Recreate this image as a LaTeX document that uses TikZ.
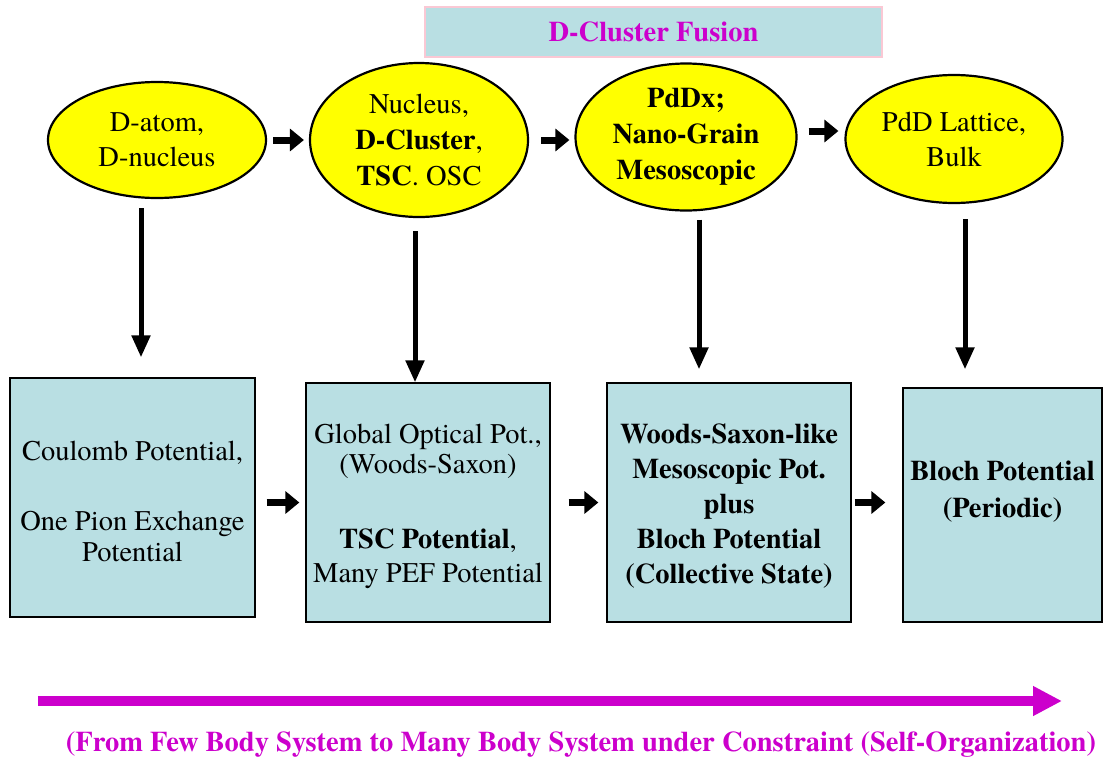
\documentclass[tikz,border=0pt]{standalone}
\usepackage{fontspec}
% Times-like face; Liberation Serif has the same widths
\IfFontExistsTF{TeX Gyre Termes}
  {\newfontfamily\diagfont{TeX Gyre Termes}}
  {\newfontfamily\diagfont{Liberation Serif}}
\usetikzlibrary{shapes.geometric,arrows.meta}
\definecolor{cellblue}{RGB}{185,223,227}
\definecolor{stageyellow}{RGB}{255,255,0}
\definecolor{flowmag}{RGB}{204,0,204}
\definecolor{edgepink}{RGB}{250,200,212}
% one size for every text; only the line spacing changes
\newcommand{\diagsize}[1]{\diagfont\fontsize{28.5}{#1}\selectfont}

\begin{document}
\begin{tikzpicture}[x=1pt,y=-1pt,
  stage/.style={ellipse,draw=black,line width=2.2pt,fill=stageyellow,inner sep=0pt,
    align=center,font={\diagsize{35}}},
  potbox/.style={rectangle,draw=black,line width=1.3pt,fill=cellblue,inner sep=0pt},
  pottext/.style={align=center,inner sep=0pt,font={\diagsize{32}}},
  harrow/.style={line width=7pt,-{Triangle[length=14pt,width=22pt]}},
  varrow/.style={line width=5pt,-{Triangle[length=22pt,width=18pt]}},
  flowarrow/.style={draw=flowmag,line width=10pt,-{Triangle[length=29pt,width=28pt]}},
]
\useasboundingbox (0,0) rectangle (1107,761);

% heading
\node[rectangle,draw=edgepink,line width=1.2pt,fill=cellblue,minimum width=457pt,
  minimum height=50pt,inner sep=0pt,text=flowmag,font={\diagsize{32}\bfseries}]
  (title) at (653.5,32) {D-Cluster Fusion};

% stages
\node[stage,minimum width=218pt,minimum height=116pt] (e1) at (157,140)
  {D-atom,\\D-nucleus};
\node[stage,minimum width=218pt,minimum height=154pt,font={\diagsize{36}}]
  (e2) at (419,140) {Nucleus,\\\textbf{D-Cluster},\\\textbf{TSC}. OSC};
\node[stage,minimum width=221pt,minimum height=147pt,font={\diagsize{36}\bfseries}]
  (e3) at (686,137) {PdDx;\\Nano-Grain\\Mesoscopic};
\node[stage,minimum width=217pt,minimum height=128pt] (e4) at (954,139)
  {PdD Lattice,\\Bulk};

% potential boxes
\node[potbox,minimum width=245pt,minimum height=239pt] (b1) at (132.5,497.5) {};
\node[potbox,minimum width=244pt,minimum height=239pt] (b2) at (428,502.5) {};
\node[potbox,minimum width=244pt,minimum height=239pt] (b3) at (729,502.5) {};
\node[potbox,minimum width=199pt,minimum height=234pt] (b4) at (1002.5,505) {};

\node[pottext,font={\diagsize{31}}] (t1) at (132.5,501)
  {Coulomb Potential,\\[39pt]One Pion Exchange\\Potential};
\node[pottext] (t2) at (428,506)
  {Global Optical Pot.,\\[-2pt](Woods-Saxon)\\[43pt]\textbf{TSC Potential},\\[2pt]Many PEF Potential};
\node[pottext,font={\diagsize{35}\bfseries}] (t3) at (729,506)
  {Woods-Saxon-like\\Mesoscopic Pot.\\plus\\Bloch Potential\\(Collective State)};
\node[pottext,font={\diagsize{37}\bfseries}] (t4) at (1002.5,492)
  {Bloch Potential\\(Periodic)};

% stage to stage
\draw[harrow,shorten <=6pt,shorten >=5pt] (e1.east) -- (e1.east -| e2.west);
\draw[harrow,shorten <=12pt,shorten >=5pt] (e2.east) -- (e2.east -| e3.west);
\draw[harrow,shorten <=11pt,shorten >=6pt] ([yshift=6pt]e3.east) -- ([yshift=6pt]e3.east -| e4.west);

% stage to potential
\draw[varrow,shorten <=9pt,shorten >=20pt] ([xshift=-16pt]e1.south) -- ([xshift=-16pt]e1.south |- b1.north);
\draw[varrow,shorten <=13pt,shorten >=0pt] ([xshift=-4pt]e2.south) -- ([xshift=-4pt]e2.south |- b2.north);
\draw[varrow,shorten <=8pt,shorten >=13pt] ([xshift=13pt]e3.south) -- ([xshift=13pt]e3.south |- b3.north);
\draw[varrow,shorten <=15pt,shorten >=18pt] ([xshift=11pt]e4.south) -- ([xshift=11pt]e4.south |- b4.north);

% potential to potential
\draw[harrow,shorten <=11pt,shorten >=6pt] (b2.west -| b1.east) -- (b2.west);
\draw[harrow,shorten <=18pt,shorten >=8pt] (b2.east) -- (b2.east -| b3.west);
\draw[harrow,shorten <=3pt,shorten >=17pt] (b3.east) -- (b3.east -| b4.west);

% overall direction
\coordinate (flowstart) at (38,701);
\coordinate (flowend) at (1062,701);
\draw[flowarrow] (flowstart) -- (flowend);
\node[text=flowmag,inner sep=0pt,font={\diagsize{32}\bfseries}] (caption) at (581,745)
  {(From Few Body System to Many Body System under Constraint (Self-Organization)};

\end{tikzpicture}
\end{document}
